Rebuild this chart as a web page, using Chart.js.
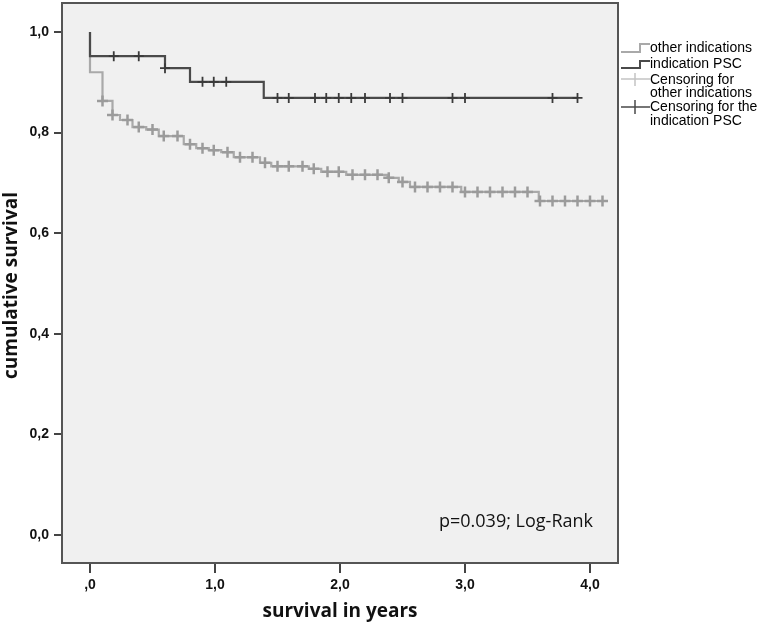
<!DOCTYPE html>
<html lang="en">
<head>
<meta charset="UTF-8">
<title>Survival - PSC vs other indications</title>
<script src="https://cdn.jsdelivr.net/npm/chart.js@4.4.0/dist/chart.umd.min.js"></script>
<style>
    body { margin: 0; background: #fff; }
    #wrap { width: 773px; height: 624px; position: relative; }
</style>
</head>
<body>
<div id="wrap"><canvas id="km"></canvas></div>
<script>
// Kaplan-Meier steps: time (years) and cumulative survival after the step
const otherTimes = [0, 0, 0.10, 0.18, 0.24, 0.34, 0.45, 0.55, 0.75, 0.85, 0.95, 1.05, 1.15, 1.36, 1.45, 1.75, 1.85, 2.05, 2.38, 2.47, 2.56, 2.97, 3.59, 4.10];
const otherSurv = [1.0, 0.92, 0.863, 0.835, 0.825, 0.811, 0.806, 0.793, 0.777, 0.769, 0.765, 0.761, 0.751, 0.740, 0.733, 0.728, 0.722, 0.716, 0.710, 0.702, 0.692, 0.682, 0.664, 0.664];
const otherCensor = [0.10, 0.18, 0.30, 0.39, 0.50, 0.59, 0.70, 0.80, 0.90, 0.99, 1.10, 1.20, 1.30, 1.40, 1.50, 1.59, 1.70, 1.79, 1.90, 1.99, 2.10, 2.20, 2.30, 2.39, 2.50, 2.60, 2.70, 2.80, 2.90, 3.00, 3.10, 3.20, 3.30, 3.40, 3.50, 3.60, 3.70, 3.80, 3.90, 4.00, 4.10];

const pscTimes = [0, 0, 0.60, 0.80, 1.39, 3.90];
const pscSurv = [1.0, 0.952, 0.928, 0.901, 0.869, 0.869];
const pscCensor = [0.19, 0.39, 0.60, 0.90, 0.99, 1.09, 1.50, 1.59, 1.80, 1.89, 1.99, 2.09, 2.20, 2.40, 2.50, 2.90, 3.00, 3.70, 3.90];

const xTickValues = [0, 1, 2, 3, 4];
const xTickLabels = [',0', '1,0', '2,0', '3,0', '4,0'];
const yTickValues = [0, 0.2, 0.4, 0.6, 0.8, 1.0];
const yTickLabels = ['0,0', '0,2', '0,4', '0,6', '0,8', '1,0'];

const pText = 'p=0.039; Log-Rank';

// survival value of a step curve at time t (for placing the censoring marks)
function survAt(times, surv, t) {
    let s = surv[0];
    for (let i = 0; i < times.length; i++) {
        if (times[i] <= t + 1e-9) s = surv[i];
    }
    return s;
}
function stepPoints(times, surv) {
    return times.map((t, i) => ({ x: t, y: surv[i] }));
}
function censorPoints(list, times, surv) {
    return list.map(t => ({ x: t, y: survAt(times, surv, t) }));
}

const LIGHT = '#a9a9a9';
const LIGHT_MARK = '#9b9b9b';
const DARK = '#4a4a4a';
const DARK_MARK = '#3a3a3a';
const FRAME_EXTRA_TOP = 5;   // frame reaches a bit above the chart area

// grey plot area + frame
const framePlugin = {
    id: 'frame',
    beforeDraw(chart) {
        const a = chart.chartArea, ctx = chart.ctx;
        const top = a.top - FRAME_EXTRA_TOP;
        ctx.save();
        ctx.fillStyle = '#f0f0f0';
        ctx.fillRect(a.left, top, a.right - a.left, a.bottom - top);
        ctx.restore();
    },
    afterDraw(chart) {
        const a = chart.chartArea, ctx = chart.ctx;
        const top = a.top - FRAME_EXTRA_TOP;
        ctx.save();
        ctx.strokeStyle = '#555';
        ctx.lineWidth = 2;
        ctx.strokeRect(a.left, top, a.right - a.left, a.bottom - top);

        // p value text
        ctx.fillStyle = '#111';
        ctx.font = '18px "Open Sans"';
        ctx.textAlign = 'right';
        ctx.textBaseline = 'middle';
        ctx.fillText(pText, 593, 522);

        // legend (outside the frame, right)
        const lx = a.right + 3;
        ctx.lineWidth = 2;
        ctx.strokeStyle = LIGHT;
        ctx.beginPath();
        ctx.moveTo(lx, 52); ctx.lineTo(lx + 19, 52); ctx.lineTo(lx + 19, 44); ctx.lineTo(lx + 29, 44);
        ctx.stroke();
        ctx.strokeStyle = DARK;
        ctx.beginPath();
        ctx.moveTo(lx, 68); ctx.lineTo(lx + 19, 68); ctx.lineTo(lx + 19, 61); ctx.lineTo(lx + 29, 61);
        ctx.stroke();
        ctx.lineWidth = 1.5;
        ctx.strokeStyle = '#c4c4c4';
        ctx.beginPath();
        ctx.moveTo(lx, 79); ctx.lineTo(lx + 29, 79);
        ctx.moveTo(lx + 14, 73); ctx.lineTo(lx + 14, 86);
        ctx.stroke();
        ctx.strokeStyle = DARK;
        ctx.beginPath();
        ctx.moveTo(lx, 107); ctx.lineTo(lx + 29, 107);
        ctx.moveTo(lx + 14, 100); ctx.lineTo(lx + 14, 114);
        ctx.stroke();

        ctx.fillStyle = '#000';
        ctx.font = '14px "Liberation Sans"';
        ctx.textAlign = 'left';
        const tx = lx + 29;
        ctx.fillText('other indications', tx, 48);
        ctx.fillText('indication PSC', tx, 64);
        ctx.fillText('Censoring for', tx, 80);
        ctx.fillText('other indications', tx, 93);
        ctx.fillText('Censoring for the', tx, 107);
        ctx.fillText('indication PSC', tx, 121);
        ctx.restore();
    }
};

const ctx = document.getElementById('km').getContext('2d');
const myChart = new Chart(ctx, {
    type: 'scatter',
    data: {
        datasets: [
            {
                label: 'Censoring for the indication PSC',
                data: censorPoints(pscCensor, pscTimes, pscSurv),
                showLine: false,
                pointStyle: 'cross',
                pointRadius: 5,
                borderWidth: 1.8,
                borderColor: DARK_MARK,
            },
            {
                label: 'indication PSC',
                data: stepPoints(pscTimes, pscSurv),
                showLine: true,
                stepped: true,
                pointRadius: 0,
                borderWidth: 2.2,
                borderColor: DARK,
            },
            {
                label: 'Censoring for other indications',
                data: censorPoints(otherCensor, otherTimes, otherSurv),
                showLine: false,
                pointStyle: 'cross',
                pointRadius: 5.5,
                borderWidth: 2.5,
                borderColor: LIGHT_MARK,
            },
            {
                label: 'other indications',
                data: stepPoints(otherTimes, otherSurv),
                showLine: true,
                stepped: true,
                pointRadius: 0,
                borderWidth: 2.2,
                borderColor: LIGHT,
            },
        ]
    },
    options: {
        responsive: true,
        maintainAspectRatio: false,
        animation: false,
        layout: { padding: { left: 0, top: 3, right: 155, bottom: 0 } },
        plugins: {
            legend: { display: false },
            tooltip: { enabled: false },
        },
        scales: {
            x: {
                type: 'linear',
                min: -0.224,
                max: 4.224,
                afterBuildTicks: axis => { axis.ticks = xTickValues.map(v => ({ value: v })); },
                afterFit: s => { s.height = 61; s.paddingLeft = 0; s.paddingRight = 0; },
                border: { display: false },
                grid: { drawOnChartArea: false, drawTicks: true, tickLength: 10, color: '#444', lineWidth: 2 },
                ticks: {
                    callback: (v, i) => xTickLabels[i],
                    font: { family: 'Liberation Sans', weight: 'bold', size: 14 },
                    color: '#111',
                    padding: 4,
                    maxRotation: 0,
                },
                title: {
                    display: true,
                    text: 'survival in years',
                    font: { family: 'Open Sans', weight: 'bold', size: 19 },
                    color: '#111',
                    padding: { top: 0, bottom: 1 },
                },
            },
            y: {
                min: -0.0557,
                max: 1.0477,
                afterBuildTicks: axis => { axis.ticks = yTickValues.map(v => ({ value: v })); },
                afterFit: s => { s.width = 62; s.paddingTop = 0; s.paddingBottom = 0; },
                border: { display: false },
                grid: { drawOnChartArea: false, drawTicks: true, tickLength: 8, color: '#444', lineWidth: 2 },
                ticks: {
                    callback: (v, i) => yTickLabels[i],
                    font: { family: 'Liberation Sans', weight: 'bold', size: 14 },
                    color: '#111',
                    padding: 5,
                },
                title: {
                    display: true,
                    text: 'cumulative survival',
                    font: { family: 'Open Sans', weight: 'bold', size: 19 },
                    color: '#111',
                    padding: 0,
                },
            },
        },
    },
    plugins: [framePlugin],
});
</script>
</body>
</html>
